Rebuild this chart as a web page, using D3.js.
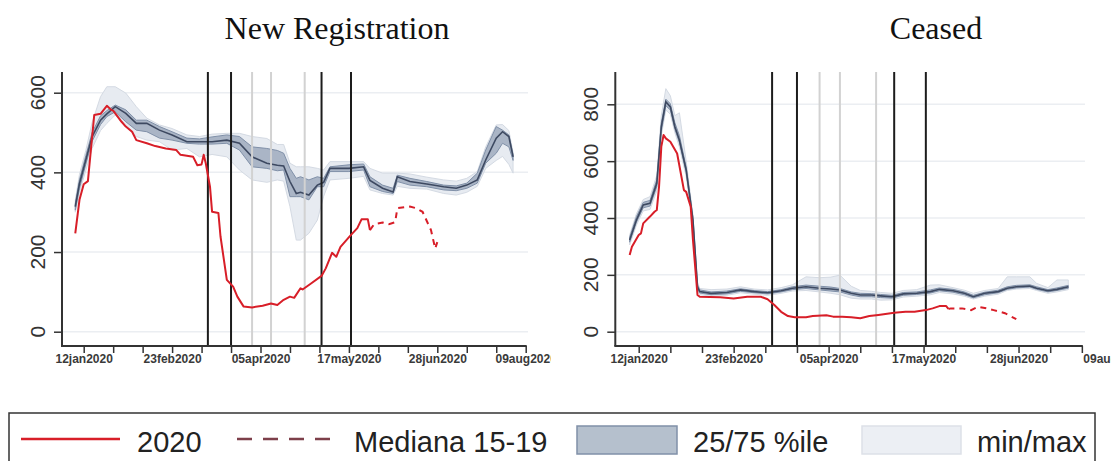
<!DOCTYPE html>
<html>
<head>
<meta charset="utf-8">
<script src="https://cdn.jsdelivr.net/npm/d3@7"></script>
<style>
  body { margin: 0; background: #fff; }
  svg { display: block; }
</style>
</head>
<body>
<svg id="chart" width="1111" height="461"></svg>
<script>
// ---------- data ----------
const panelTitles = ["New Registration", "Ceased"];
const legendLabels = ["2020", "Mediana 15-19", "25/75 %ile", "min/max"];

const xTickStart = "2020-01-12";
const xTickEnd = "2020-08-09";
const xLabelDates = ["2020-01-12", "2020-02-23", "2020-04-05", "2020-05-17", "2020-06-28", "2020-08-09"];

const yTicksNew = [0, 200, 400, 600];
const yTicksCeased = [0, 200, 400, 600, 800];

// policy dates: main measures and secondary decrees
const eventMajor = ["2020-03-11", "2020-03-22", "2020-05-04", "2020-05-18"];
const eventMinor = ["2020-04-01", "2020-04-10", "2020-04-26"];

// New registrations, 2015-19 reference distribution
const newBandDates = ["2020-01-08","2020-01-10","2020-01-13","2020-01-16","2020-01-20","2020-01-23","2020-01-27","2020-02-01","2020-02-06","2020-02-11","2020-02-17","2020-02-23","2020-03-01","2020-03-07","2020-03-13","2020-03-20","2020-03-26","2020-04-01","2020-04-08","2020-04-13","2020-04-16","2020-04-19","2020-04-22","2020-04-24","2020-04-28","2020-05-02","2020-05-05","2020-05-08","2020-05-17","2020-05-24","2020-05-27","2020-06-02","2020-06-07","2020-06-09","2020-06-15","2020-06-23","2020-07-01","2020-07-07","2020-07-12","2020-07-17","2020-07-21","2020-07-26","2020-07-29","2020-08-01","2020-08-03"];
const newMin = [300,350,405,460,505,523,544,515,490,481,477,456,460,439,445,439,406,381,375,381,378,314,230,230,247,280,340,381,385,390,356,347,343,365,360,358,347,343,350,365,410,430,440,420,398];
const newP25 = [305,360,420,478,520,540,552,527,506,502,486,481,473,471,471,473,456,414,410,404,406,339,339,339,331,364,364,402,402,406,364,352,347,377,368,364,356,354,360,373,423,448,473,464,430];
const newMed = [314,372,431,490,531,547,565,548,523,523,506,494,477,477,477,481,473,439,423,418,416,377,347,350,343,368,375,410,410,414,380,360,351,389,377,371,364,360,368,381,431,486,502,490,439];
const newP75 = [322,382,442,500,542,555,569,557,531,531,515,502,486,484,489,494,490,464,460,455,448,410,385,389,381,389,385,414,419,421,389,368,360,393,385,377,368,366,373,398,456,515,506,494,445];
const newMax = [330,395,455,525,590,615,615,599,565,536,519,510,494,490,496,498,498,490,485,470,470,423,414,414,414,410,406,427,427,427,410,398,398,398,396,388,381,378,385,402,464,519,520,505,450];

// New registrations, 2020
const newObsDates = ["2020-01-08","2020-01-10","2020-01-12","2020-01-14","2020-01-17","2020-01-20","2020-01-23","2020-01-25","2020-01-26","2020-01-30","2020-02-01","2020-02-04","2020-02-06","2020-02-11","2020-02-15","2020-02-20","2020-02-25","2020-02-27","2020-03-04","2020-03-06","2020-03-08","2020-03-09","2020-03-10","2020-03-12","2020-03-13","2020-03-16","2020-03-17","2020-03-20","2020-03-23","2020-03-25","2020-03-28","2020-04-01","2020-04-06","2020-04-10","2020-04-13","2020-04-16","2020-04-19","2020-04-21","2020-04-24","2020-04-25","2020-04-29","2020-05-04","2020-05-06","2020-05-09","2020-05-11","2020-05-13","2020-05-18","2020-05-21","2020-05-23","2020-05-26","2020-05-27"];
const newObs = [247,331,370,378,544,547,567,557,555,527,515,502,481,473,466,460,456,444,439,418,420,444,423,364,301,298,239,130,113,88,63,61,65,71,67,80,88,85,109,106,121,140,159,198,188,213,243,260,282,282,255];
const newLateDates = ["2020-05-27","2020-05-29","2020-06-02","2020-06-05","2020-06-08","2020-06-09","2020-06-15","2020-06-18","2020-06-21","2020-06-25","2020-06-27","2020-06-28"];
const newLate = [255,270,274,270,275,310,314,310,301,255,209,225];

// Ceased, 2015-19 reference distribution
const ceasedBandDates = ["2020-01-08","2020-01-11","2020-01-14","2020-01-17","2020-01-20","2020-01-22","2020-01-24","2020-01-26","2020-01-28","2020-01-30","2020-02-02","2020-02-05","2020-02-07","2020-02-08","2020-02-13","2020-02-20","2020-02-26","2020-03-03","2020-03-09","2020-03-15","2020-03-20","2020-03-26","2020-04-01","2020-04-06","2020-04-10","2020-04-15","2020-04-19","2020-04-24","2020-04-28","2020-05-03","2020-05-08","2020-05-14","2020-05-20","2020-05-24","2020-05-30","2020-06-04","2020-06-08","2020-06-13","2020-06-19","2020-06-23","2020-06-27","2020-07-03","2020-07-06","2020-07-11","2020-07-15","2020-07-20"];
const ceasedMin = [305,375,425,430,495,690,780,765,700,650,545,375,145,130,125,128,137,132,128,135,143,145,140,135,130,118,115,115,111,112,122,125,130,138,133,125,115,125,132,145,150,152,145,135,140,148];
const ceasedP25 = [315,385,436,442,510,705,795,780,712,665,560,385,152,136,130,133,142,137,133,140,148,152,147,143,140,129,123,123,120,118,128,131,136,144,139,130,119,130,137,149,154,157,149,140,145,153];
const ceasedMed = [323,393,446,452,522,721,809,791,721,674,569,393,158,141,135,138,147,141,137,144,153,158,153,150,147,135,129,129,126,123,133,135,141,149,144,135,123,135,141,153,158,161,153,144,149,158];
const ceasedP75 = [332,405,455,462,535,735,818,802,735,690,580,402,165,147,140,143,151,145,141,148,158,164,160,157,152,140,135,134,131,128,138,140,147,154,149,140,128,139,146,158,163,165,158,148,154,163];
const ceasedMax = [340,415,465,475,550,760,855,830,760,770,600,410,175,152,148,150,158,150,147,155,165,193,190,192,199,160,145,142,138,135,145,148,164,165,155,146,135,145,152,193,193,193,170,155,182,182];

// Ceased, 2020
const ceasedObsDates = ["2020-01-08","2020-01-09","2020-01-12","2020-01-13","2020-01-14","2020-01-17","2020-01-19","2020-01-20","2020-01-21","2020-01-22","2020-01-23","2020-01-24","2020-01-26","2020-01-29","2020-02-01","2020-02-02","2020-02-04","2020-02-05","2020-02-07","2020-02-08","2020-02-17","2020-02-23","2020-02-29","2020-03-06","2020-03-09","2020-03-12","2020-03-15","2020-03-18","2020-03-21","2020-03-26","2020-03-29","2020-04-04","2020-04-07","2020-04-11","2020-04-15","2020-04-19","2020-04-23","2020-04-27","2020-05-04","2020-05-09","2020-05-13","2020-05-18","2020-05-21","2020-05-24","2020-05-27","2020-05-28"];
const ceasedObs = [270,299,340,346,381,405,422,428,510,651,692,680,668,627,498,492,440,323,129,123,121,117,123,123,114,94,70,55,51,51,55,58,53,53,51,47,55,59,67,70,70,76,82,90,90,80];
const ceasedLateDates = ["2020-05-28","2020-05-29","2020-06-03","2020-06-07","2020-06-10","2020-06-14","2020-06-17","2020-06-22","2020-06-27"];
const ceasedLate = [80,82,82,76,88,82,76,65,44];

// ---------- drawing ----------
const parse = d3.utcParse("%Y-%m-%d");
const fmt = d3.utcFormat("%d%b%Y");
const svg = d3.select("#chart");
const sansFont = "'Liberation Sans', Arial, sans-serif";
const serifFont = "'Liberation Serif', 'Times New Roman', serif";

const COL = {
  red: "#d81e28",
  median: "#3d4961",
  iqrFill: "#aab5c6",
  iqrEdge: "#8090a8",
  rangeFill: "#e7ebf1",
  rangeEdge: "#d4dae3",
  axis: "#333",
  grid: "#ebeef2",
  major: "#1c1c1c",
  minor: "#d2d2d2",
  legendDash: "#7d3f4a"
};

const rows = (dates, cols) => dates.map((d, i) => {
  const o = { t: parse(d) };
  for (const k in cols) o[k] = cols[k][i];
  return o;
});

svg.append("defs").append("clipPath").attr("id", "clipLeft")
  .append("rect").attr("x", 0).attr("y", 0).attr("width", 551).attr("height", 400);

const panels = [
  {
    title: panelTitles[0], titleX: 337,
    clip: "clipLeft",
    axisX: 62, xRange: [83.7, 525.7], y0: 331.7, yTopPx: 92.7, yTopVal: 600,
    plotTop: 72, axisY: 346, gridRight: 528, xAxisEnd: "2020-08-09",
    yTicks: yTicksNew,
    band: rows(newBandDates, { min: newMin, p25: newP25, med: newMed, p75: newP75, max: newMax }),
    obs: rows(newObsDates, { v: newObs }),
    late: rows(newLateDates, { v: newLate })
  },
  {
    title: panelTitles[1], titleX: 936,
    clip: null,
    axisX: 615.3, xRange: [638.7, 1113.5], y0: 331.7, yTopPx: 104.3, yTopVal: 800,
    plotTop: 72, axisY: 346, gridRight: 1085, xAxisEnd: "2020-07-26",
    yTicks: yTicksCeased,
    band: rows(ceasedBandDates, { min: ceasedMin, p25: ceasedP25, med: ceasedMed, p75: ceasedP75, max: ceasedMax }),
    obs: rows(ceasedObsDates, { v: ceasedObs }),
    late: rows(ceasedLateDates, { v: ceasedLate })
  }
];

panels.forEach(p => {
  const g = svg.append("g");
  if (p.clip) g.attr("clip-path", `url(#${p.clip})`);

  const x = d3.scaleUtc().domain([parse(xTickStart), parse(xTickEnd)]).range(p.xRange);
  const y = d3.scaleLinear().domain([0, p.yTopVal]).range([p.y0, p.yTopPx]);

  // title
  svg.append("text")
    .attr("x", p.titleX).attr("y", 39)
    .attr("text-anchor", "middle")
    .attr("font-family", serifFont).attr("font-size", 32)
    .attr("fill", "#111")
    .text(p.title);

  // horizontal grid
  g.append("g").selectAll("line").data(p.yTicks).join("line")
    .attr("x1", p.axisX).attr("x2", p.gridRight)
    .attr("y1", d => y(d)).attr("y2", d => y(d))
    .attr("stroke", COL.grid).attr("stroke-width", 1.5);

  // min/max band
  g.append("path").datum(p.band)
    .attr("d", d3.area().x(d => x(d.t)).y0(d => y(d.min)).y1(d => y(d.max)))
    .attr("fill", COL.rangeFill).attr("stroke", COL.rangeEdge).attr("stroke-width", 1);

  // interquartile band
  g.append("path").datum(p.band)
    .attr("d", d3.area().x(d => x(d.t)).y0(d => y(d.p25)).y1(d => y(d.p75)))
    .attr("fill", COL.iqrFill).attr("stroke", COL.iqrEdge).attr("stroke-width", 1);

  // median
  g.append("path").datum(p.band)
    .attr("d", d3.line().x(d => x(d.t)).y(d => y(d.med)))
    .attr("fill", "none").attr("stroke", COL.median).attr("stroke-width", 1.6);

  // policy markers
  const vlines = (dates, color) => g.append("g").selectAll("line").data(dates).join("line")
    .attr("x1", d => x(parse(d))).attr("x2", d => x(parse(d)))
    .attr("y1", p.plotTop).attr("y2", p.axisY)
    .attr("stroke", color).attr("stroke-width", 2);
  vlines(eventMinor, COL.minor);
  vlines(eventMajor, COL.major);

  // 2020 series
  const line = d3.line().x(d => x(d.t)).y(d => y(d.v));
  g.append("path").datum(p.obs).attr("d", line)
    .attr("fill", "none").attr("stroke", COL.red).attr("stroke-width", 2)
    .attr("stroke-linejoin", "round");
  g.append("path").datum(p.late).attr("d", line)
    .attr("fill", "none").attr("stroke", COL.red).attr("stroke-width", 2)
    .attr("stroke-dasharray", "6,5");

  // y axis
  const yAxis = g.append("g").attr("transform", `translate(${p.axisX},0)`)
    .call(d3.axisLeft(y).tickValues(p.yTicks).tickSize(8).tickFormat(""));
  yAxis.select(".domain").remove();
  yAxis.selectAll(".tick line").attr("stroke", COL.axis).attr("stroke-width", 1.5);
  g.append("line").attr("x1", p.axisX).attr("x2", p.axisX)
    .attr("y1", p.plotTop).attr("y2", p.axisY)
    .attr("stroke", COL.axis).attr("stroke-width", 2);
  g.append("g").selectAll("text").data(p.yTicks).join("text")
    .attr("transform", d => `translate(${p.axisX - 17},${y(d)}) rotate(-90)`)
    .attr("text-anchor", "middle")
    .attr("font-family", sansFont).attr("font-size", 21).attr("fill", "#333")
    .text(d => d);

  // x axis
  const tickDates = d3.utcDay.range(parse(xTickStart), d3.utcDay.offset(parse(xTickEnd), 1), 14);
  const labelSet = new Set(xLabelDates);
  const xAxis = g.append("g").attr("transform", `translate(0,${p.axisY})`)
    .call(d3.axisBottom(x).tickValues(tickDates).tickSize(7)
      .tickFormat(d => labelSet.has(d3.utcFormat("%Y-%m-%d")(d)) ? fmt(d).toLowerCase() : ""));
  xAxis.select(".domain").remove();
  xAxis.selectAll(".tick line").attr("stroke", COL.axis).attr("stroke-width", 1.5);
  xAxis.selectAll(".tick text")
    .attr("y", 17).attr("dy", 0)
    .attr("font-family", sansFont).attr("font-size", 12).attr("font-weight", "bold")
    .attr("fill", "#3a3a3a");
  g.append("line").attr("x1", p.axisX - 1).attr("x2", x(parse(p.xAxisEnd)) + 1)
    .attr("y1", p.axisY).attr("y2", p.axisY)
    .attr("stroke", COL.axis).attr("stroke-width", 2);
});

// ---------- legend ----------
const lg = svg.append("g");
lg.append("rect").attr("x", 9).attr("y", 413).attr("width", 1086).attr("height", 70)
  .attr("fill", "#fff").attr("stroke", "#333").attr("stroke-width", 1.5);
const legY = 439;
const baseY = 451.5;
lg.append("line").attr("x1", 21).attr("x2", 120).attr("y1", legY).attr("y2", legY)
  .attr("stroke", COL.red).attr("stroke-width", 2.5);
lg.append("line").attr("x1", 237).attr("x2", 331).attr("y1", legY).attr("y2", legY)
  .attr("stroke", COL.legendDash).attr("stroke-width", 2.5).attr("stroke-dasharray", "15,11");
lg.append("rect").attr("x", 577).attr("y", 426).attr("width", 100).attr("height", 28)
  .attr("fill", "#b5c0cd").attr("stroke", COL.iqrEdge).attr("stroke-width", 1.5);
lg.append("rect").attr("x", 862).attr("y", 426).attr("width", 99).attr("height", 28)
  .attr("fill", "#eceff4").attr("stroke", "#dde1e8").attr("stroke-width", 1.5);
const legTextX = [137, 354, 693, 977];
lg.selectAll("text.leg").data(legendLabels).join("text")
  .attr("class", "leg")
  .attr("x", (d, i) => legTextX[i]).attr("y", baseY)
  .attr("font-family", sansFont).attr("font-size", 29).attr("fill", "#222")
  .text(d => d);
</script>
</body>
</html>
